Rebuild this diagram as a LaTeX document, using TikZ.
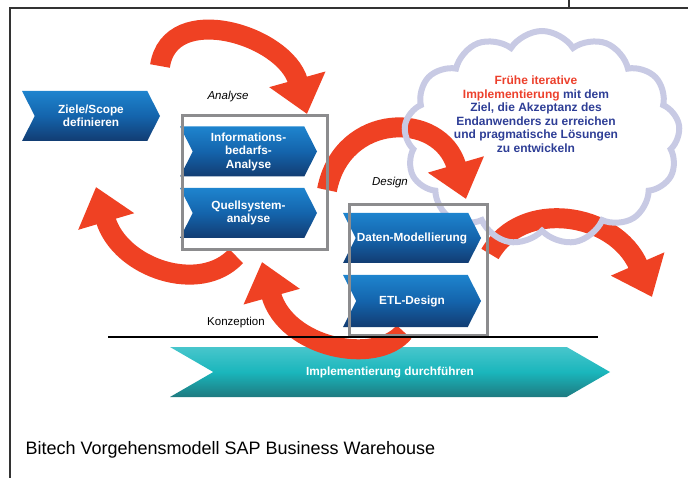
\documentclass[tikz,border=0pt]{standalone}
\usepackage{fontspec}
\setmainfont{Liberation Sans}
\usepackage{tikz}
\usetikzlibrary{positioning}
\usetikzlibrary{fit}
\usetikzlibrary{shapes.symbols}
\usetikzlibrary{arrows.meta}

\definecolor{chevtop}{RGB}{30,132,206}
\definecolor{chevmid}{RGB}{20,100,172}
\definecolor{chevbot}{RGB}{18,60,114}
\definecolor{impltop}{RGB}{72,198,204}
\definecolor{implmid}{RGB}{26,182,188}
\definecolor{implbot}{RGB}{30,122,128}
\definecolor{loopred}{RGB}{239,65,35}
\definecolor{cloudline}{RGB}{200,202,228}
\definecolor{boxgray}{RGB}{140,140,142}
\definecolor{cloudred}{RGB}{236,64,44}
\definecolor{cloudblue}{RGB}{46,62,150}

\tikzset{
	chevron/.style={signal, signal from=west, signal to=east, signal pointer angle=126,
		top color=chevtop, bottom color=chevbot, middle color=chevmid, text=white,
		font=\bfseries\fontsize{11.8}{13.5}\selectfont, align=center, inner sep=0pt,
		minimum width=138pt, minimum height=50pt},
	phasebox/.style={draw=boxgray, line width=3pt},
	loop/.style={draw=loopred, line width=20pt, -{Triangle[length=36pt,width=56pt]}},
	phaselabel/.style={font=\itshape\fontsize{11.5}{13}\selectfont}
}

\begin{document}
\begin{tikzpicture}[x=1pt,y=-1pt]
		\useasboundingbox (0,0) rectangle (688,478);
		\draw [line width=1.5pt, color=black!80] (10,478) -- (10,8) -- (688,8);
		\draw [line width=1.5pt, color=black!80] (569,0) -- (569,8);

		\node at (390,372) [chevron, signal pointer angle=60, minimum width=440pt,
			top color=impltop, bottom color=implbot, middle color=implmid] (impl) {Implementierung durchführen};

		% red loops
		\coordinate (zieleloop) at (160,66);
		\coordinate (analyseloop) at (307,114);
		\coordinate (quellloop) at (236,256);
		\coordinate (zieleback) at (96,187);
		\coordinate (infoloop) at (327,190);
		\coordinate (datenloop) at (466,199);
		\coordinate (etlloop) at (404,332);
		\coordinate (quellback) at (262,262);
		\coordinate (datenout) at (490,254);
		\coordinate (cloudloop) at (652,297);
		\draw [loop] (zieleloop) .. controls (170,0) and (285,35) .. (analyseloop);
		\draw [loop] (quellloop) .. controls (200,295) and (120,268) .. (zieleback);
		\draw [loop] (infoloop) .. controls (342,112) and (440,110) .. (datenloop);
		\draw [loop] (etlloop) .. controls (376,366) and (286,348) .. (quellback);
		\draw [loop] (datenout) .. controls (522,198) and (615,212) .. (cloudloop);

		\node at (542,138) [cloud, cloud puffs=13, cloud puff arc=115, aspect=1.3, draw=cloudline, line width=6pt, minimum width=276pt, minimum height=214pt] (cloud) {};
		\node at (536,114) [align=center, text=cloudblue, font=\bfseries\fontsize{12}{13.5}\selectfont] (cloudtext) {{\color{cloudred}Frühe iterative}\\{\color{cloudred}Implementierung} mit dem\\Ziel, die Akzeptanz des\\Endanwenders zu erreichen\\und pragmatische Lösungen\\zu entwickeln};

		\node at (91,116) [chevron] (ziele) {Ziele/Scope\\definieren};
		\node at (248.5,151.5) [chevron, minimum width=137pt] (info) {Informations-\\bedarfs-\\Analyse};
		\node at (248.5,213) [chevron, minimum width=137pt] (quell) {Quellsystem-\\analyse};
		\node at (412,238) [chevron] (daten) {Daten-Modellierung};
		\node at (412,301) [chevron, minimum height=52pt] (etl) {ETL-Design};
		\node [phasebox, fit=(info)(quell), inner xsep=10pt, inner ysep=11pt] (analysebox) {};
		\node [phasebox, fit=(daten)(etl), inner xsep=6pt, inner ysep=8pt] (designbox) {};
		\node at (228,97) [phaselabel] (analyse) {Analyse};
		\node at (390,183) [phaselabel] (design) {Design};

		\draw [line width=1.5pt] (108,337) -- (598,337);
		\node at (236,323) [font=\fontsize{11.5}{13}\selectfont] (konzeption) {Konzeption};

		\node at (22,450) [anchor=west, font=\fontsize{18}{20}\selectfont] (caption) {Bitech Vorgehensmodell SAP Business Warehouse};
		\end{tikzpicture}
\end{document}
